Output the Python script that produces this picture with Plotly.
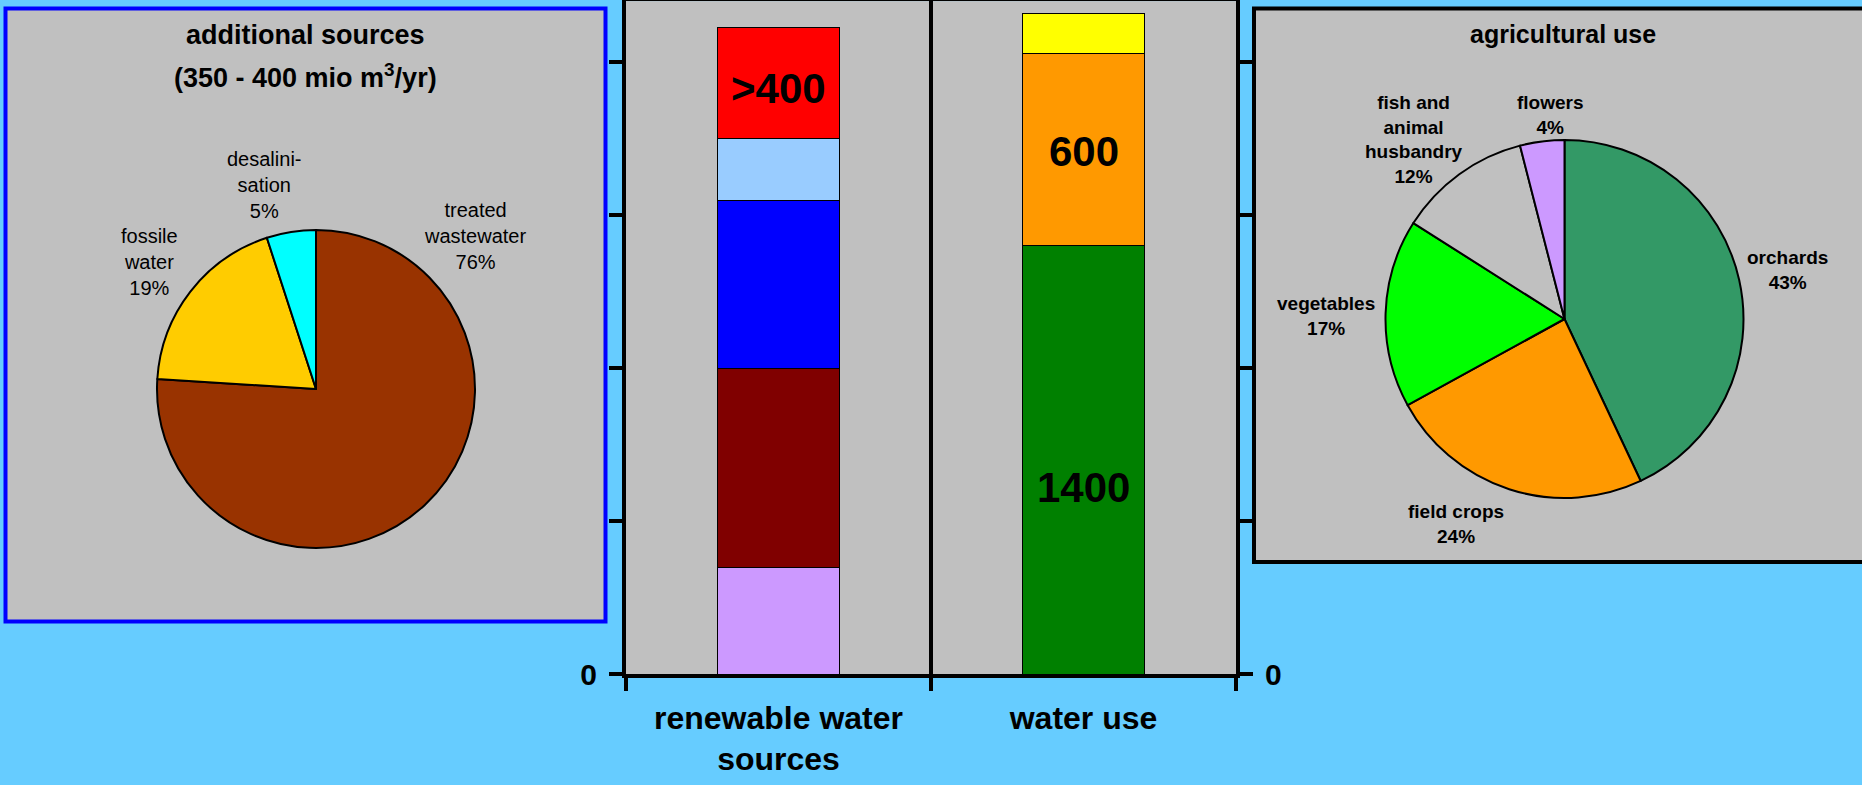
import plotly.graph_objects as go

W, H = 1862, 785
FONTE = "Liberation Sans, Arial, sans-serif"

# barras centrais (mio m3/ano)
categorias = ["renewable water<br>sources", "water use"]
renovavel_valores = [350, 650, 550, 200, 363]
renovavel_cores = ["#CC99FF", "#800000", "#0000FF", "#99CCFF", "#FF0000"]
uso_valores = [1400, 630, 128]
uso_cores = ["#008000", "#FF9900", "#FFFF00"]
y_ticks = [0]
y_ticktext = ["0"]
y_passo = 500

# rotulos dentro das barras: (categoria, indice do segmento, texto)
rotulos_barras = [(0, 4, ">400"), (1, 1, "600"), (1, 0, "1400")]

# pizza da esquerda
fontes_nomes = ["treated<br>wastewater", "fossile<br>water", "desalini-<br>sation"]
fontes_pct = [76, 19, 5]
fontes_cores = ["#993300", "#FFCC00", "#00FFFF"]

# pizza da direita
agri_nomes = ["orchards", "field crops", "vegetables", "fish and<br>animal<br>husbandry", "flowers"]
agri_pct = [43, 24, 17, 12, 4]
agri_cores = ["#339966", "#FF9900", "#00FF00", "#C0C0C0", "#CC99FF"]


def px(x):
    return x / W


def py(y):
    return 1 - y / H


fig = go.Figure()

# barras empilhadas
for v, c in zip(renovavel_valores, renovavel_cores):
    fig.add_trace(go.Bar(x=[categorias[0]], y=[v], marker=dict(color=c, line=dict(color="black", width=1)),
                         width=0.4, hoverinfo="skip"))
for v, c in zip(uso_valores, uso_cores):
    fig.add_trace(go.Bar(x=[categorias[1]], y=[v], marker=dict(color=c, line=dict(color="black", width=1)),
                         width=0.4, hoverinfo="skip"))
# traco invisivel so para mostrar o eixo da direita
fig.add_trace(go.Scatter(x=[categorias[0]], y=[0], yaxis="y2", mode="markers",
                         marker=dict(opacity=0), hoverinfo="skip"))

# pizzas
fig.add_trace(go.Pie(labels=fontes_nomes, values=fontes_pct, sort=False, direction="clockwise",
                     rotation=0, textinfo="none", hoverinfo="skip",
                     marker=dict(colors=fontes_cores, line=dict(color="black", width=2)),
                     domain=dict(x=[px(316 - 159), px(316 + 159)], y=[py(389 + 159), py(389 - 159)])))
fig.add_trace(go.Pie(labels=agri_nomes, values=agri_pct, sort=False, direction="clockwise",
                     rotation=0, textinfo="none", hoverinfo="skip",
                     marker=dict(colors=agri_cores, line=dict(color="black", width=2)),
                     domain=dict(x=[px(1564.5 - 179), px(1564.5 + 179)], y=[py(319 + 179), py(319 - 179)])))

anotacoes = []

# textos dentro das barras
series = [renovavel_valores, uso_valores]
desloc = {">400": -5, "600": -2, "1400": -27}
for cat, i, txt in rotulos_barras:
    vals = series[cat]
    meio = sum(vals[:i]) + vals[i] / 2
    anotacoes.append(dict(x=cat, y=meio, xref="x", yref="y", text=txt, showarrow=False,
                          yshift=desloc[txt], font=dict(size=42, color="black", family=FONTE, weight="bold")))

# rotulos das pizzas
pos_fontes = [(475, 236), (149, 262), (264, 185)]
for nome, p, (x, y) in zip(fontes_nomes, fontes_pct, pos_fontes):
    anotacoes.append(dict(x=px(x), y=py(y), xref="paper", yref="paper", text=f"{nome}<br>{p}%",
                          showarrow=False, xanchor="center", yanchor="middle",
                          font=dict(size=20, color="black", family=FONTE)))
pos_agri = [(1787, 270), (1456, 524), (1326, 316), (1414, 140), (1550, 115)]
for nome, p, (x, y) in zip(agri_nomes, agri_pct, pos_agri):
    anotacoes.append(dict(x=px(x), y=py(y), xref="paper", yref="paper", text=f"{nome}<br>{p}%",
                          showarrow=False, xanchor="center", yanchor="middle",
                          font=dict(size=19, color="black", family=FONTE, weight="bold")))

# titulos dos paineis
titulos = [("additional sources", 305, 35, 27),
           ("(350 - 400 mio m<sup>3</sup>/yr)", 305, 76, 27),
           ("agricultural use", 1563, 34, 25)]
for txt, x, y, tam in titulos:
    anotacoes.append(dict(x=px(x), y=py(y), xref="paper", yref="paper", text=txt,
                          showarrow=False, xanchor="center", yanchor="middle",
                          font=dict(size=tam, color="black", family=FONTE, weight="bold")))

# caixas dos paineis laterais
formas = [
    dict(type="rect", xref="paper", yref="paper", x0=px(5.5), x1=px(605.5), y0=py(621.5), y1=py(8.5),
         fillcolor="#C0C0C0", line=dict(color="#0000FF", width=4), layer="below"),
    dict(type="rect", xref="paper", yref="paper", x0=px(1254), x1=px(1875), y0=py(562), y1=py(8.5),
         fillcolor="#C0C0C0", line=dict(color="black", width=4), layer="below"),
]

eixo_y = dict(range=[0, 2200], tickvals=y_ticks, ticktext=y_ticktext, ticks="outside", ticklen=13,
              tickwidth=4, tickcolor="black", showline=True, linewidth=4, linecolor="black",
              minor=dict(ticks="outside", ticklen=13, tickwidth=4, tickcolor="black",
                         tick0=0, dtick=y_passo, showgrid=False),
              showgrid=False, zeroline=False, domain=[py(674.3), py(1.1)], fixedrange=True,
              automargin=False, ticklabelstandoff=6,
              tickfont=dict(size=30, color="black", family=FONTE, weight="bold"))

fig.update_layout(
    autosize=True,
    margin=dict(l=0, r=0, t=0, b=0),
    paper_bgcolor="#66CCFF",
    plot_bgcolor="#C0C0C0",
    barmode="stack",
    showlegend=False,
    xaxis=dict(domain=[px(626), px(1236)], type="category", tickson="boundaries", ticks="outside",
               ticklen=13, tickwidth=4, tickcolor="black", showline=True, linewidth=4, linecolor="black",
               mirror=True, showgrid=True, gridcolor="black", gridwidth=4, fixedrange=True,
               automargin=False, ticklabelstandoff=12,
               tickfont=dict(size=32, color="black", family=FONTE, weight="bold")),
    yaxis=eixo_y,
    yaxis2=dict(eixo_y, overlaying="y", side="right", anchor="x"),
    annotations=anotacoes,
    shapes=formas,
)

# figura ocupa a janela inteira, sem a margem padrao do body
js = ("document.documentElement.style.overflow='hidden';"
      "document.body.style.margin='0';document.body.style.overflow='hidden';")
fig.write_html("out.html", config={"displayModeBar": False},
               default_width="100vw", default_height="100vh", post_script=js)
